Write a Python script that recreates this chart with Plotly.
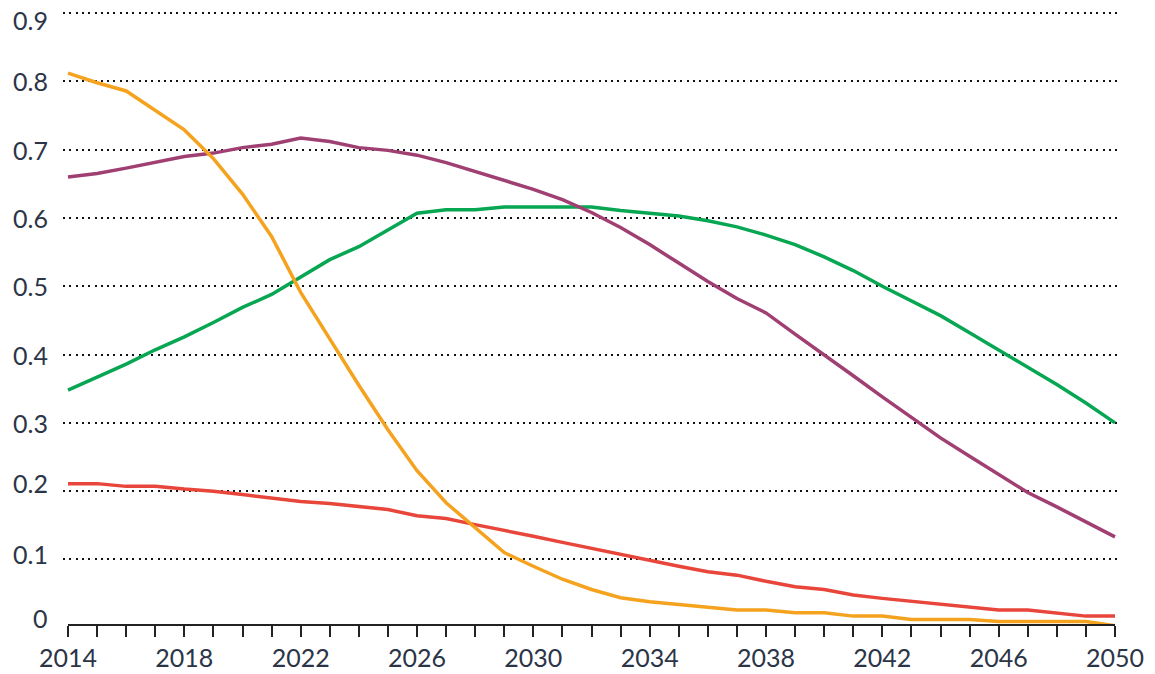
import plotly.graph_objects as go

years = list(range(2014, 2051))

orange = [0.812, 0.798, 0.786, 0.757, 0.729, 0.687, 0.635, 0.573, 0.491, 0.423,
          0.355, 0.290, 0.230, 0.183, 0.146, 0.110, 0.090, 0.071, 0.056, 0.044,
          0.038, 0.034, 0.030, 0.026, 0.026, 0.022, 0.022, 0.017, 0.017, 0.012,
          0.012, 0.012, 0.009, 0.009, 0.009, 0.009, 0.003]
purple = [0.660, 0.665, 0.673, 0.681, 0.690, 0.695, 0.703, 0.708, 0.717, 0.712,
          0.703, 0.699, 0.692, 0.681, 0.668, 0.655, 0.642, 0.627, 0.608, 0.586,
          0.561, 0.534, 0.507, 0.482, 0.461, 0.430, 0.400, 0.369, 0.338, 0.308,
          0.278, 0.251, 0.225, 0.198, 0.177, 0.155, 0.133]
green = [0.348, 0.367, 0.386, 0.407, 0.426, 0.447, 0.469, 0.488, 0.514, 0.539,
         0.558, 0.582, 0.607, 0.612, 0.612, 0.616, 0.616, 0.616, 0.616, 0.611,
         0.607, 0.603, 0.596, 0.587, 0.575, 0.561, 0.543, 0.523, 0.500, 0.479,
         0.457, 0.432, 0.407, 0.381, 0.356, 0.329, 0.300]
red = [0.211, 0.211, 0.207, 0.207, 0.203, 0.200, 0.195, 0.190, 0.185, 0.182,
       0.178, 0.173, 0.164, 0.160, 0.151, 0.143, 0.134, 0.125, 0.116, 0.107,
       0.099, 0.090, 0.082, 0.077, 0.068, 0.060, 0.056, 0.048, 0.043, 0.039,
       0.034, 0.030, 0.026, 0.026, 0.021, 0.017, 0.017]

y_ticks = [0, 0.1, 0.2, 0.3, 0.4, 0.5, 0.6, 0.7, 0.8, 0.9]
y_tick_text = ["0", "0.1", "0.2", "0.3", "0.4", "0.5", "0.6", "0.7", "0.8", "0.9"]
x_label_years = [2014, 2018, 2022, 2026, 2030, 2034, 2038, 2042, 2046, 2050]

# style
label_shift = [7, 5, 8, 0, 0, 0, 0, 0, 0, -7]
FONT = "Lato"
TXT = "#2b3547"
Y_MIN, Y_MAX = 0.004, 0.906

series = [
    (red, "#E8453B"),
    (green, "#07A653"),
    (purple, "#A03F72"),
    (orange, "#F5A31F"),
]

fig = go.Figure()
for vals, col in series:
    fig.add_trace(go.Scatter(x=years, y=vals, mode="lines",
                             line=dict(color=col, width=3.5),
                             cliponaxis=False, showlegend=False,
                             hoverinfo="skip"))

pad = 5 / 29.08
fig.update_xaxes(
    range=[years[0] - pad, years[-1] + pad],
    tickvals=years,
    ticktext=[str(y) if y in x_label_years else "" for y in years],
    ticks="outside", ticklen=11, tickwidth=2, tickcolor="#222222",
    showgrid=False, zeroline=False, showline=False,
    tickfont=dict(family=FONT, size=25, color=TXT),
    ticklabelstandoff=0, automargin=False,
)
fig.update_yaxes(
    range=[Y_MIN, Y_MAX],
    tickvals=y_ticks[1:],
    showticklabels=False, automargin=False,
    showgrid=True, gridcolor="#111111", gridwidth=1.6, griddash="2px,4.3px",
    zeroline=False, showline=False, ticks="",
)

fig.add_shape(type="line", xref="x", yref="paper",
              x0=years[0], x1=years[-1], y0=0, y1=0,
              line=dict(color="#222222", width=2))

for v, t, s in zip(y_ticks, y_tick_text, label_shift):
    if v < Y_MIN:
        yref, yy = "paper", 0
    else:
        yref, yy = "y", v
    fig.add_annotation(x=0, xref="paper", y=yy, yref=yref, text=t,
                       showarrow=False, xanchor="right", yanchor="middle",
                       xshift=-13, yshift=s,
                       font=dict(family=FONT, size=25, color=TXT))

fig.update_layout(
    width=1155, height=674,
    margin=dict(l=63, r=35, t=9, b=49, autoexpand=False),
    plot_bgcolor="white", paper_bgcolor="white",
)

fig.write_html("out.html",
               config={"displayModeBar": False},
               post_script="document.body.style.margin='0';document.body.style.overflow='hidden';")
